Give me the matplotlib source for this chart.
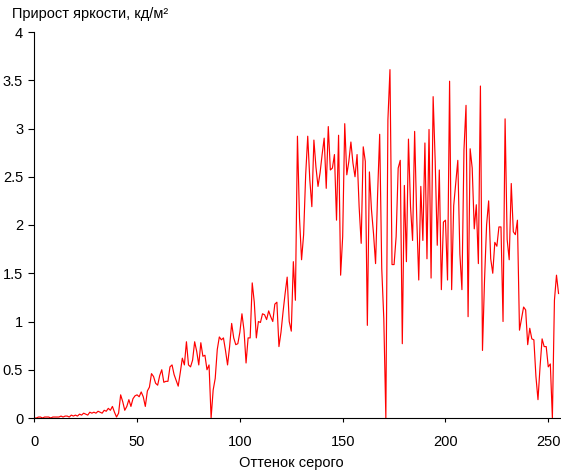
import matplotlib
matplotlib.use("Agg")
import matplotlib.pyplot as plt
import numpy as np

plt.rcParams['font.family'] = ['Liberation Sans', 'DejaVu Sans']

# brightness increment per grey level (0..255)
gain = [
    0.0, 0.0, 0.01, 0.01, 0.0, 0.01, 0.01, 0.01, 0.0, 0.01,
    0.01, 0.01, 0.01, 0.02, 0.01, 0.02, 0.02, 0.01, 0.03, 0.02,
    0.03, 0.02, 0.04, 0.03, 0.05, 0.04, 0.03, 0.06, 0.05, 0.06,
    0.05, 0.07, 0.06, 0.05, 0.08, 0.07, 0.10, 0.08, 0.12, 0.06,
    0.01, 0.05, 0.24, 0.17, 0.08, 0.12, 0.19, 0.12, 0.20, 0.23,
    0.24, 0.22, 0.27, 0.22, 0.12, 0.28, 0.32, 0.46, 0.43, 0.36,
    0.34, 0.44, 0.50, 0.37, 0.38, 0.38, 0.53, 0.55, 0.45, 0.39,
    0.33, 0.47, 0.62, 0.55, 0.79, 0.55, 0.53, 0.60, 0.79, 0.69,
    0.55, 0.78, 0.64, 0.65, 0.50, 0.55, 0.0, 0.29, 0.41, 0.71,
    0.84, 0.81, 0.83, 0.70, 0.55, 0.74, 0.98, 0.83, 0.76, 0.77,
    0.89, 1.08, 0.91, 0.57, 0.83, 0.83, 1.40, 1.20, 0.83, 1.00,
    0.99, 1.08, 1.07, 1.02, 1.11, 1.05, 1.00, 1.18, 1.20, 0.74,
    0.89, 1.10, 1.29, 1.46, 1.00, 0.90, 1.62, 1.22, 2.92, 2.07,
    1.64, 1.90, 2.52, 2.92, 2.47, 2.19, 2.88, 2.60, 2.40, 2.54,
    2.73, 2.90, 2.38, 3.02, 2.57, 2.59, 2.73, 2.05, 2.93, 1.48,
    1.88, 3.05, 2.52, 2.66, 2.86, 2.64, 2.50, 2.73, 2.19, 1.81,
    2.81, 2.66, 0.96, 2.55, 2.16, 1.91, 1.60, 2.33, 2.94, 1.55,
    1.03, 0.0, 3.09, 3.61, 1.59, 1.59, 1.88, 2.59, 2.67, 0.77,
    2.41, 1.62, 2.89, 2.19, 1.84, 2.97, 2.09, 1.43, 2.40, 1.84,
    2.85, 1.65, 2.99, 1.45, 3.33, 2.66, 1.79, 2.57, 1.33, 2.03,
    2.05, 1.43, 3.49, 1.33, 2.20, 2.43, 2.67, 1.70, 1.33, 2.78,
    3.24, 1.05, 2.79, 2.59, 1.96, 2.21, 1.60, 3.44, 0.70, 1.43,
    2.00, 2.25, 1.65, 1.50, 1.82, 1.78, 1.98, 1.98, 1.00, 3.10,
    1.85, 1.64, 2.43, 1.93, 1.90, 2.05, 0.91, 1.03, 1.15, 1.12,
    0.76, 0.93, 0.82, 0.81, 0.43, 0.19, 0.53, 0.82, 0.74, 0.74,
    0.53, 0.56, 0.0, 1.22, 1.48, 1.29,
]
levels = np.arange(len(gain))

xticks = [0, 50, 100, 150, 200, 250]
yticks = [0, 0.5, 1, 1.5, 2, 2.5, 3, 3.5, 4]
ylabels = ['0', '0.5', '1', '1.5', '2', '2.5', '3', '3.5', '4']

fig = plt.figure(figsize=(5.61, 4.71), dpi=100)
ax = fig.add_axes([34.3 / 561, 53 / 471, 526.3 / 561, 386 / 471])

ax.plot(levels, gain, color='#ff0000', lw=0.85)

ax.set_xlim(0, 256)
ax.set_ylim(0, 4)
ax.set_xticks(xticks)
ax.set_yticks(yticks)
ax.set_yticklabels(ylabels)

for s in ['top', 'right']:
    ax.spines[s].set_visible(False)
for s in ['left', 'bottom']:
    ax.spines[s].set_linewidth(0.8)
ax.tick_params(axis='x', length=3, width=0.8, pad=9, labelsize=10.5)
ax.tick_params(axis='y', length=4, width=0.8, pad=4, labelsize=10.5)

fig.text(12 / 561, 1 - 18 / 471, 'Прирост яркости, кд/м²', fontsize=10.5,
         ha='left', va='baseline')
fig.text(291 / 561, 1 - 463 / 471, 'Оттенок серого', fontsize=10.5,
         ha='center', va='center')

fig.savefig('out.png', dpi=100)
